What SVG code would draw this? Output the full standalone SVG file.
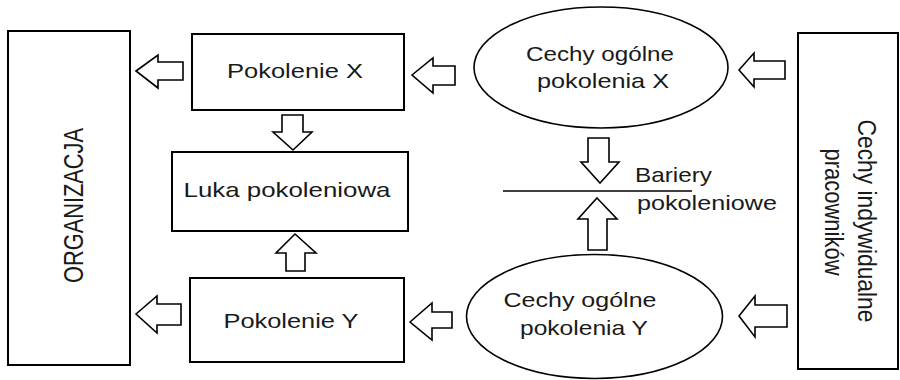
<svg xmlns="http://www.w3.org/2000/svg" width="900" height="380" viewBox="0 0 900 380">
<style>
.box{fill:#fff;stroke:#000;stroke-width:2}
.ell{fill:#fff;stroke:#000;stroke-width:1.6}
.arr{fill:#fff;stroke:#000;stroke-width:1.6;stroke-linejoin:miter}
.t{font-family:"Liberation Sans",Arial,sans-serif;font-size:21px;fill:#1a1a1a}
.r{font-family:"Liberation Sans",Arial,sans-serif;font-size:22px;fill:#1a1a1a}
</style>
<rect width="900" height="380" fill="#fff"/>
<g id="organizacja">
<rect class="box" x="8" y="31" width="122" height="334"/>
<text class="r" transform="translate(83,205.5) rotate(-90) scale(1,1.22)" text-anchor="middle" textLength="155" lengthAdjust="spacingAndGlyphs">ORGANIZACJA</text>
</g>
<g id="pokolenie-x">
<rect class="box" x="192" y="34" width="212" height="76"/>
<text class="t" x="295" y="78" text-anchor="middle" textLength="136" lengthAdjust="spacingAndGlyphs">Pokolenie X</text>
</g>
<g id="luka">
<rect class="box" x="172" y="152" width="236" height="79"/>
<text class="t" x="287" y="197" text-anchor="middle" textLength="207" lengthAdjust="spacingAndGlyphs">Luka pokoleniowa</text>
</g>
<g id="pokolenie-y">
<rect class="box" x="190" y="278" width="214" height="84"/>
<text class="t" x="291" y="328" text-anchor="middle" textLength="135" lengthAdjust="spacingAndGlyphs">Pokolenie Y</text>
</g>
<g id="cechy-x">
<ellipse class="ell" cx="601" cy="67.5" rx="127" ry="60.5"/>
<text class="t" x="600" y="61" text-anchor="middle" textLength="148" lengthAdjust="spacingAndGlyphs">Cechy ogólne</text>
<text class="t" x="603" y="88" text-anchor="middle" textLength="132" lengthAdjust="spacingAndGlyphs">pokolenia X</text>
</g>
<g id="cechy-y">
<ellipse class="ell" cx="594.5" cy="316.5" rx="128" ry="62"/>
<text class="t" x="580" y="307" text-anchor="middle" textLength="153" lengthAdjust="spacingAndGlyphs">Cechy ogólne</text>
<text class="t" x="584" y="335" text-anchor="middle" textLength="128" lengthAdjust="spacingAndGlyphs">pokolenia Y</text>
</g>
<g id="bariery">
<line x1="503" y1="191" x2="692" y2="191" stroke="#000" stroke-width="1.6"/>
<text class="t" x="635" y="182" textLength="77" lengthAdjust="spacingAndGlyphs">Bariery</text>
<text class="t" x="637" y="210" textLength="140" lengthAdjust="spacingAndGlyphs">pokoleniowe</text>
</g>
<g id="cechy-indywidualne">
<rect class="box" x="798" y="33" width="100" height="336"/>
<text class="r" transform="translate(858,221) rotate(90) scale(1,1.15)" text-anchor="middle" textLength="203" lengthAdjust="spacingAndGlyphs">Cechy indywidualne</text>
<text class="r" transform="translate(825,212) rotate(90) scale(1,1.15)" text-anchor="middle">pracowników</text>
</g>
<g id="connectors">
<path class="arr" d="M136,71 L158,55 L158,62 L183,62 L183,80 L158,80 L158,88 Z"/>
<path class="arr" d="M412,75 L433,58 L433,66 L455,66 L455,85 L433,85 L433,93 Z"/>
<path class="arr" d="M739,70 L754,53 L754,61 L785,61 L785,79 L754,79 L754,87 Z"/>
<path class="arr" d="M282,115 L303,115 L303,132 L312,132 L293,150 L273,132 L282,132 Z"/>
<path class="arr" d="M295,234 L316,253 L305,253 L305,271 L286,271 L286,253 L276,253 Z"/>
<path class="arr" d="M136,314 L157,296 L157,304 L181,304 L181,325 L157,325 L157,333 Z"/>
<path class="arr" d="M410,322 L432,303 L432,312 L452,312 L452,328 L432,328 L432,340 Z"/>
<path class="arr" d="M739,316 L755,296 L755,305 L787,305 L787,327 L755,327 L755,337 Z"/>
<path class="arr" d="M588,138 L609,138 L609,162 L619,162 L600,183 L581,162 L588,162 Z"/>
<path class="arr" d="M597,198 L617,219 L607,219 L607,250 L588,250 L588,219 L578,219 Z"/>
</g>
</svg>
